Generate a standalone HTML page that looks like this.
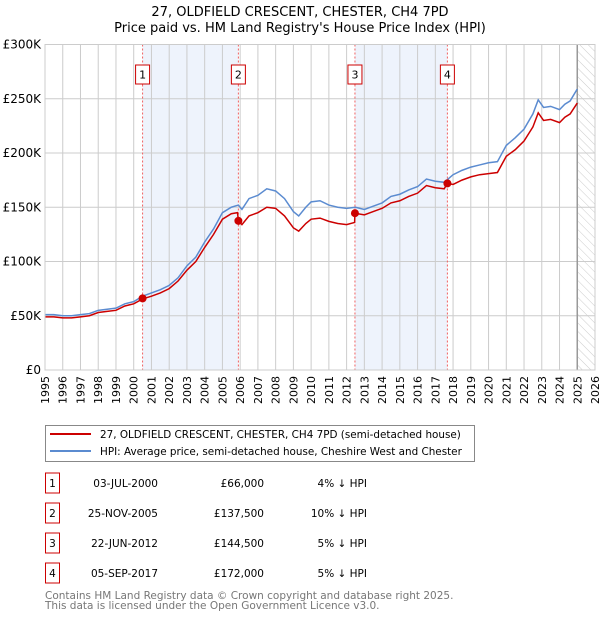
<!DOCTYPE html>
<html><head><meta charset="utf-8"><style>
body{margin:0;background:#fff;font-family:"DejaVu Sans","Liberation Sans",sans-serif;}
svg text{font-family:"DejaVu Sans","Liberation Sans",sans-serif;}
</style></head><body>
<svg id="chart" width="600" height="620" xmlns="http://www.w3.org/2000/svg">
<defs><pattern id="hatch" width="6" height="6" patternUnits="userSpaceOnUse" patternTransform="rotate(-45)"><line x1="0" y1="0" x2="0" y2="6" stroke="#ccc" stroke-width="1"/></pattern></defs>
<text x="300" y="16" text-anchor="middle" font-size="13" fill="#000">27, OLDFIELD CRESCENT, CHESTER, CH4 7PD</text>
<text x="300" y="32" text-anchor="middle" font-size="13" fill="#000">Price paid vs. HM Land Registry's House Price Index (HPI)</text>
<g id="plot"></g>
<g>
<rect x="45.5" y="425.5" width="429" height="36" fill="#fff" stroke="#888"/>
<line x1="50" y1="434" x2="91" y2="434" stroke="#cc0000" stroke-width="2"/>
<text x="100" y="438" font-size="10.4">27, OLDFIELD CRESCENT, CHESTER, CH4 7PD (semi-detached house)</text>
<line x1="50" y1="451" x2="91" y2="451" stroke="#5b8bd0" stroke-width="2"/>
<text x="100" y="455" font-size="10.4">HPI: Average price, semi-detached house, Cheshire West and Chester</text>
</g>
<g id="table"></g>
<text x="45" y="599" font-size="10.5" fill="#777">Contains HM Land Registry data © Crown copyright and database right 2025.</text>
<text x="45" y="609" font-size="10.5" fill="#777">This data is licensed under the Open Government Licence v3.0.</text>
</svg>
<script>
const hpiYears=[1995,1995.5,1996,1996.5,1997,1997.5,1998,1998.5,1999,1999.5,2000,2000.5,2001,2001.5,2002,2002.5,2003,2003.5,2004,2004.5,2005,2005.5,2005.9,2006.1,2006.5,2007,2007.5,2008,2008.5,2009,2009.3,2009.7,2010,2010.5,2011,2011.5,2012,2012.5,2013,2013.5,2014,2014.5,2015,2015.5,2016,2016.5,2017,2017.5,2018,2018.5,2019,2019.5,2020,2020.5,2021,2021.5,2022,2022.5,2022.8,2023.1,2023.5,2024,2024.3,2024.6,2025];
const hpiValues=[51,51,50,50,51,52,55,56,57,61,63,68,71,74,78,85,96,104,118,130,145,150,152,148,158,161,167,165,158,146,142,150,155,156,152,150,149,150,148,151,154,160,162,166,169,176,174,173,180,184,187,189,191,192,207,214,222,236,249,242,243,240,245,248,259];
const priceYears=[1995,1995.5,1996,1996.5,1997,1997.5,1998,1998.5,1999,1999.5,2000,2000.5,2001,2001.5,2002,2002.5,2003,2003.5,2004,2004.5,2005,2005.5,2005.85,2005.9,2006.1,2006.5,2007,2007.5,2008,2008.5,2009,2009.3,2009.7,2010,2010.5,2011,2011.5,2012,2012.45,2012.47,2013,2013.5,2014,2014.5,2015,2015.5,2016,2016.5,2017,2017.5,2017.68,2018,2018.5,2019,2019.5,2020,2020.5,2021,2021.5,2022,2022.5,2022.8,2023.1,2023.5,2024,2024.3,2024.6,2025];
const priceValues=[49,49,48,48,49,50,53,54,55,59,61,65.5,68,71,75,82,92,100,113,125,139,144,145,137.5,134,142,145,150,149,142,131,128,135,139,140,137,135,134,136,144.5,143,146,149,154,156,160,163,170,168,167,172,171,175,178,180,181,182,197,203,211,224,237,230,231,228,233,236,246];
const saleYears=[2000.5,2005.9,2012.47,2017.68];
const saleValues=[66,137.5,144.5,172];
const saleLabels=["1","2","3","4"];
const saleDates=["03-JUL-2000","25-NOV-2005","22-JUN-2012","05-SEP-2017"];
const salePrices=["£66,000","£137,500","£144,500","£172,000"];
const salePct=["4% ↓ HPI","10% ↓ HPI","5% ↓ HPI","5% ↓ HPI"];
const yTicks=[0,50,100,150,200,250,300];
const yTickLabels=["£0","£50K","£100K","£150K","£200K","£250K","£300K"];
const xTicks=[1995,1996,1997,1998,1999,2000,2001,2002,2003,2004,2005,2006,2007,2008,2009,2010,2011,2012,2013,2014,2015,2016,2017,2018,2019,2020,2021,2022,2023,2024,2025,2026];

const NS="http://www.w3.org/2000/svg";
const L=45,R=595,T=44.5,B=370;
const xs=v=>L+(v-1995)/(2026-1995)*(R-L);
const ys=v=>B-v/300*(B-T);
const plot=document.getElementById('plot');
function mk(tag,attrs,parent){const e=document.createElementNS(NS,tag);for(const k in attrs)e.setAttribute(k,attrs[k]);(parent||plot).appendChild(e);return e;}
for(let i=0;i<saleYears.length;i+=2){
 const r=mk('rect',{x:xs(saleYears[i]),y:T,width:xs(saleYears[i+1])-xs(saleYears[i]),height:B-T,fill:'#eef3fc'});
 
 
}
const hx=xs(2025.0);
const h=mk('rect',{x:hx,y:T,width:R-hx,height:B-T,fill:'url(#hatch)'});


xTicks.forEach((t,i)=>{
 const g=mk('line',{x1:xs(t),x2:xs(t),y1:T,y2:B,stroke:'#ccc','stroke-width':1});
 
 
 const tx=mk('text',{x:0,y:0,'font-size':11,'text-anchor':'end',transform:`translate(${xs(t)+4},${B+6}) rotate(-90)`});
 tx.textContent=t;
 
 
});
yTicks.forEach((t,i)=>{
 const g=mk('line',{x1:L,x2:R,y1:ys(t),y2:ys(t),stroke:'#ccc','stroke-width':1});
 
 
 const tx=mk('text',{x:L-4,y:ys(t)+4,'font-size':12,'text-anchor':'end'});
 tx.textContent=yTickLabels[i];
 
 
});
const nl=mk('line',{x1:hx,x2:hx,y1:T,y2:B,stroke:'#999','stroke-width':1.5});


saleYears.forEach((s,i)=>{
 const d=mk('line',{x1:xs(s),x2:xs(s),y1:T,y2:B,stroke:'#f06060','stroke-width':1,'stroke-dasharray':'2,2'});
 
 
 const bx=mk('rect',{x:xs(s)-7,y:65,width:14,height:19,fill:'#fff',stroke:'#cc0000','stroke-width':1});
 
 
 const t=mk('text',{x:xs(s),y:78.5,'font-size':11,'text-anchor':'middle'});
 t.textContent=saleLabels[i];
 
 
});
const hp=mk('polyline',{points:hpiYears.map((y,i)=>xs(y)+','+ys(hpiValues[i])).join(' '),fill:'none',stroke:'#5b8bd0','stroke-width':1.5});


const pp=mk('polyline',{points:priceYears.map((y,i)=>xs(y)+','+ys(priceValues[i])).join(' '),fill:'none',stroke:'#cc0000','stroke-width':1.5});


saleYears.forEach((s,i)=>{
 const c=mk('circle',{cx:xs(s),cy:ys(saleValues[i]),r:4,fill:'#cc0000'});
 
 
});
const fr=mk('rect',{x:L,y:T,width:R-L,height:B-T,fill:'none',stroke:'#ccc'});


const tb=document.getElementById('table');
saleLabels.forEach((lab,i)=>{
 const cy=483+i*30;
 const b=mk('rect',{x:45.5,y:cy-10,width:14,height:20,fill:'#fff',stroke:'#cc0000'},tb);
 
 
 const cols=[[52.5,'middle',lab,'row-number'],[158,'end',saleDates[i],'row-date'],[264,'end',salePrices[i],'row-price'],[367,'end',salePct[i],'row-hpi-diff']];
 cols.forEach(c=>{
  const t=mk('text',{x:c[0],y:cy+4,'font-size':10.5,'text-anchor':c[1]},tb);
  t.textContent=c[2];
  
  
 });
});
</script>
</body></html>
